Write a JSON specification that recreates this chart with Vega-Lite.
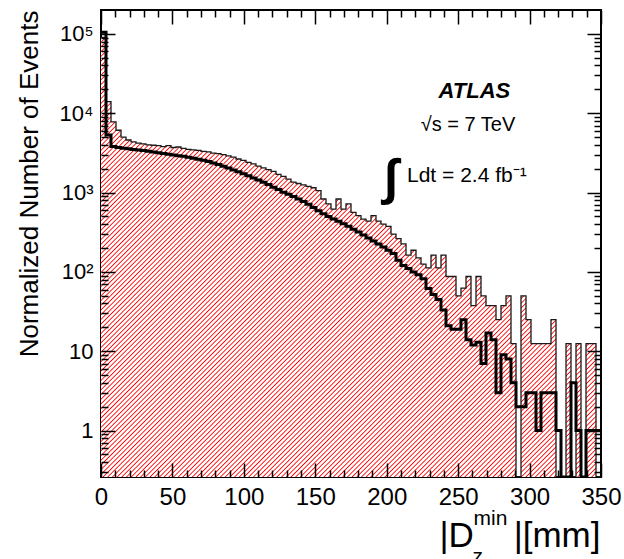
{
"$schema":"https://vega.github.io/schema/vega-lite/v6.json",
"width":500,"height":467,
"autosize":"none",
"padding":{"left":101,"top":10,"right":23,"bottom":82},
"background":"white",
"config":{"view":{"stroke":"black","strokeWidth":2},"font":"Liberation Sans",
"axis":{"grid":false,"domain":false,"labelColor":"black","tickColor":"black","titleColor":"black","labelFont":"Liberation Sans","titleFont":"Liberation Sans","titleFontWeight":"normal","tickWidth":1.5},
"text":{"font":"Liberation Sans","color":"black"}},
"data":{"values":[
{"x":0,"data":105000,"mc":90000},{"x":3.5,"data":5300,"mc":14000},{"x":7,"data":3800,"mc":7800},{"x":10.5,"data":3700,"mc":6100},{"x":14,"data":3620,"mc":5000},
{"x":17.5,"data":3560,"mc":4600},{"x":21,"data":3500,"mc":4350},{"x":24.5,"data":3440,"mc":4200},{"x":28,"data":3380,"mc":4100},{"x":31.5,"data":3320,"mc":4000},
{"x":35,"data":3250,"mc":3950},{"x":38.5,"data":3170,"mc":3900},{"x":42,"data":3100,"mc":3800},{"x":45.5,"data":3040,"mc":3900},{"x":49,"data":2980,"mc":3700},
{"x":52.5,"data":2920,"mc":3750},{"x":56,"data":2860,"mc":3600},{"x":59.5,"data":2790,"mc":3500},{"x":63,"data":2710,"mc":3450},{"x":66.5,"data":2630,"mc":3400},
{"x":70,"data":2550,"mc":3300},{"x":73.5,"data":2460,"mc":3250},{"x":77,"data":2360,"mc":3150},{"x":80.5,"data":2260,"mc":3100},{"x":84,"data":2150,"mc":3000},
{"x":87.5,"data":2040,"mc":2900},{"x":91,"data":1930,"mc":2800},{"x":94.5,"data":1830,"mc":2650},{"x":98,"data":1730,"mc":2550},{"x":101.5,"data":1630,"mc":2400},
{"x":105,"data":1530,"mc":2300},{"x":108.5,"data":1440,"mc":2150},{"x":112,"data":1350,"mc":2050},{"x":115.5,"data":1260,"mc":1950},{"x":119,"data":1170,"mc":1850},
{"x":122.5,"data":1090,"mc":1700},{"x":126,"data":1010,"mc":1600},{"x":129.5,"data":950,"mc":1480},{"x":133,"data":890,"mc":1350},{"x":136.5,"data":830,"mc":1300},
{"x":140,"data":770,"mc":1250},{"x":143.5,"data":710,"mc":1200},{"x":147,"data":650,"mc":1150},{"x":150.5,"data":590,"mc":1060},{"x":154,"data":540,"mc":830},
{"x":157.5,"data":500,"mc":720},{"x":161,"data":465,"mc":620},{"x":164.5,"data":435,"mc":830},{"x":168,"data":405,"mc":620},{"x":171.5,"data":375,"mc":720},
{"x":175,"data":345,"mc":562.5},{"x":178.5,"data":318,"mc":512.5},{"x":182,"data":292,"mc":462.5},{"x":185.5,"data":268,"mc":437.5},{"x":189,"data":246,"mc":512.5},
{"x":192.5,"data":225,"mc":437.5},{"x":196,"data":206,"mc":400},{"x":199.5,"data":188,"mc":375},{"x":203,"data":170,"mc":300},{"x":206.5,"data":140,"mc":262.5},
{"x":210,"data":120,"mc":225},{"x":213.5,"data":110,"mc":162.5},{"x":217,"data":100,"mc":187.5},{"x":220.5,"data":92,"mc":150},{"x":224,"data":82,"mc":125},
{"x":227.5,"data":62,"mc":112.5},{"x":231,"data":52,"mc":162.5},{"x":234.5,"data":45,"mc":112.5},{"x":238,"data":33,"mc":162.5},{"x":241.5,"data":21,"mc":87.5},
{"x":245,"data":19,"mc":87.5},{"x":248.5,"data":19,"mc":50},{"x":252,"data":25,"mc":62.5},{"x":255.5,"data":14,"mc":87.5},{"x":259,"data":12,"mc":37.5},
{"x":262.5,"data":13,"mc":87.5},{"x":266,"data":7,"mc":50},{"x":269.5,"data":17,"mc":37.5},{"x":273,"data":14,"mc":37.5},{"x":276.5,"data":3,"mc":25},
{"x":280,"data":9,"mc":37.5},{"x":283.5,"data":8,"mc":50},{"x":287,"data":4,"mc":12.5},{"x":290.5,"data":2,"mc":0},{"x":294,"data":2,"mc":50},
{"x":297.5,"data":3,"mc":25},{"x":301,"data":3,"mc":12.5},{"x":304.5,"data":1,"mc":12.5},{"x":308,"data":3,"mc":12.5},{"x":311.5,"data":3,"mc":12.5},
{"x":315,"data":3,"mc":25},{"x":318.5,"data":1,"mc":0},{"x":322,"data":0,"mc":0},{"x":325.5,"data":0,"mc":12.5},{"x":329,"data":4,"mc":0},
{"x":332.5,"data":1,"mc":12.5},{"x":336,"data":0,"mc":0},{"x":339.5,"data":1,"mc":12.5},{"x":343,"data":1,"mc":12.5},{"x":346.5,"data":1,"mc":0},
{"x":350,"data":1,"mc":0}
]},
"resolve":{"axis":{"x":"independent","y":"independent"}},
"layer":[
{"mark":{"type":"area","interpolate":"step-after","clip":true,"invalid":"show",
 "fill":{"gradient":"linear","x1":0,"y1":0,"x2":1.06,"y2":0.932,"stops":[
{"offset":0,"color":"#f00"},{"offset":0.0013,"color":"#fff"},{"offset":0.0037,"color":"#fff"},{"offset":0.005,"color":"#f00"},{"offset":0.0063,"color":"#fff"},{"offset":0.0087,"color":"#fff"},
{"offset":0.01,"color":"#f00"},{"offset":0.0113,"color":"#fff"},{"offset":0.0137,"color":"#fff"},{"offset":0.015,"color":"#f00"},{"offset":0.0163,"color":"#fff"},{"offset":0.0187,"color":"#fff"},
{"offset":0.02,"color":"#f00"},{"offset":0.0213,"color":"#fff"},{"offset":0.0237,"color":"#fff"},{"offset":0.025,"color":"#f00"},{"offset":0.0263,"color":"#fff"},{"offset":0.0287,"color":"#fff"},
{"offset":0.03,"color":"#f00"},{"offset":0.0313,"color":"#fff"},{"offset":0.0337,"color":"#fff"},{"offset":0.035,"color":"#f00"},{"offset":0.0363,"color":"#fff"},{"offset":0.0387,"color":"#fff"},
{"offset":0.04,"color":"#f00"},{"offset":0.0413,"color":"#fff"},{"offset":0.0437,"color":"#fff"},{"offset":0.045,"color":"#f00"},{"offset":0.0463,"color":"#fff"},{"offset":0.0487,"color":"#fff"},
{"offset":0.05,"color":"#f00"},{"offset":0.0513,"color":"#fff"},{"offset":0.0537,"color":"#fff"},{"offset":0.055,"color":"#f00"},{"offset":0.0563,"color":"#fff"},{"offset":0.0587,"color":"#fff"},
{"offset":0.06,"color":"#f00"},{"offset":0.0613,"color":"#fff"},{"offset":0.0637,"color":"#fff"},{"offset":0.065,"color":"#f00"},{"offset":0.0663,"color":"#fff"},{"offset":0.0687,"color":"#fff"},
{"offset":0.07,"color":"#f00"},{"offset":0.0713,"color":"#fff"},{"offset":0.0737,"color":"#fff"},{"offset":0.075,"color":"#f00"},{"offset":0.0763,"color":"#fff"},{"offset":0.0787,"color":"#fff"},
{"offset":0.08,"color":"#f00"},{"offset":0.0813,"color":"#fff"},{"offset":0.0837,"color":"#fff"},{"offset":0.085,"color":"#f00"},{"offset":0.0863,"color":"#fff"},{"offset":0.0887,"color":"#fff"},
{"offset":0.09,"color":"#f00"},{"offset":0.0913,"color":"#fff"},{"offset":0.0937,"color":"#fff"},{"offset":0.095,"color":"#f00"},{"offset":0.0963,"color":"#fff"},{"offset":0.0987,"color":"#fff"},
{"offset":0.1,"color":"#f00"},{"offset":0.1013,"color":"#fff"},{"offset":0.1037,"color":"#fff"},{"offset":0.105,"color":"#f00"},{"offset":0.1063,"color":"#fff"},{"offset":0.1087,"color":"#fff"},
{"offset":0.11,"color":"#f00"},{"offset":0.1113,"color":"#fff"},{"offset":0.1137,"color":"#fff"},{"offset":0.115,"color":"#f00"},{"offset":0.1163,"color":"#fff"},{"offset":0.1187,"color":"#fff"},
{"offset":0.12,"color":"#f00"},{"offset":0.1213,"color":"#fff"},{"offset":0.1237,"color":"#fff"},{"offset":0.125,"color":"#f00"},{"offset":0.1263,"color":"#fff"},{"offset":0.1287,"color":"#fff"},
{"offset":0.13,"color":"#f00"},{"offset":0.1313,"color":"#fff"},{"offset":0.1337,"color":"#fff"},{"offset":0.135,"color":"#f00"},{"offset":0.1363,"color":"#fff"},{"offset":0.1387,"color":"#fff"},
{"offset":0.14,"color":"#f00"},{"offset":0.1413,"color":"#fff"},{"offset":0.1437,"color":"#fff"},{"offset":0.145,"color":"#f00"},{"offset":0.1463,"color":"#fff"},{"offset":0.1487,"color":"#fff"},
{"offset":0.15,"color":"#f00"},{"offset":0.1513,"color":"#fff"},{"offset":0.1537,"color":"#fff"},{"offset":0.155,"color":"#f00"},{"offset":0.1563,"color":"#fff"},{"offset":0.1587,"color":"#fff"},
{"offset":0.16,"color":"#f00"},{"offset":0.1613,"color":"#fff"},{"offset":0.1637,"color":"#fff"},{"offset":0.165,"color":"#f00"},{"offset":0.1663,"color":"#fff"},{"offset":0.1687,"color":"#fff"},
{"offset":0.17,"color":"#f00"},{"offset":0.1713,"color":"#fff"},{"offset":0.1737,"color":"#fff"},{"offset":0.175,"color":"#f00"},{"offset":0.1763,"color":"#fff"},{"offset":0.1787,"color":"#fff"},
{"offset":0.18,"color":"#f00"},{"offset":0.1813,"color":"#fff"},{"offset":0.1837,"color":"#fff"},{"offset":0.185,"color":"#f00"},{"offset":0.1863,"color":"#fff"},{"offset":0.1887,"color":"#fff"},
{"offset":0.19,"color":"#f00"},{"offset":0.1913,"color":"#fff"},{"offset":0.1937,"color":"#fff"},{"offset":0.195,"color":"#f00"},{"offset":0.1963,"color":"#fff"},{"offset":0.1987,"color":"#fff"},
{"offset":0.2,"color":"#f00"},{"offset":0.2013,"color":"#fff"},{"offset":0.2037,"color":"#fff"},{"offset":0.205,"color":"#f00"},{"offset":0.2063,"color":"#fff"},{"offset":0.2087,"color":"#fff"},
{"offset":0.21,"color":"#f00"},{"offset":0.2113,"color":"#fff"},{"offset":0.2137,"color":"#fff"},{"offset":0.215,"color":"#f00"},{"offset":0.2163,"color":"#fff"},{"offset":0.2187,"color":"#fff"},
{"offset":0.22,"color":"#f00"},{"offset":0.2213,"color":"#fff"},{"offset":0.2237,"color":"#fff"},{"offset":0.225,"color":"#f00"},{"offset":0.2263,"color":"#fff"},{"offset":0.2287,"color":"#fff"},
{"offset":0.23,"color":"#f00"},{"offset":0.2313,"color":"#fff"},{"offset":0.2337,"color":"#fff"},{"offset":0.235,"color":"#f00"},{"offset":0.2363,"color":"#fff"},{"offset":0.2387,"color":"#fff"},
{"offset":0.24,"color":"#f00"},{"offset":0.2413,"color":"#fff"},{"offset":0.2437,"color":"#fff"},{"offset":0.245,"color":"#f00"},{"offset":0.2463,"color":"#fff"},{"offset":0.2487,"color":"#fff"},
{"offset":0.25,"color":"#f00"},{"offset":0.2513,"color":"#fff"},{"offset":0.2537,"color":"#fff"},{"offset":0.255,"color":"#f00"},{"offset":0.2563,"color":"#fff"},{"offset":0.2587,"color":"#fff"},
{"offset":0.26,"color":"#f00"},{"offset":0.2613,"color":"#fff"},{"offset":0.2637,"color":"#fff"},{"offset":0.265,"color":"#f00"},{"offset":0.2663,"color":"#fff"},{"offset":0.2687,"color":"#fff"},
{"offset":0.27,"color":"#f00"},{"offset":0.2713,"color":"#fff"},{"offset":0.2737,"color":"#fff"},{"offset":0.275,"color":"#f00"},{"offset":0.2763,"color":"#fff"},{"offset":0.2787,"color":"#fff"},
{"offset":0.28,"color":"#f00"},{"offset":0.2813,"color":"#fff"},{"offset":0.2837,"color":"#fff"},{"offset":0.285,"color":"#f00"},{"offset":0.2863,"color":"#fff"},{"offset":0.2887,"color":"#fff"},
{"offset":0.29,"color":"#f00"},{"offset":0.2913,"color":"#fff"},{"offset":0.2937,"color":"#fff"},{"offset":0.295,"color":"#f00"},{"offset":0.2963,"color":"#fff"},{"offset":0.2987,"color":"#fff"},
{"offset":0.3,"color":"#f00"},{"offset":0.3013,"color":"#fff"},{"offset":0.3037,"color":"#fff"},{"offset":0.305,"color":"#f00"},{"offset":0.3063,"color":"#fff"},{"offset":0.3087,"color":"#fff"},
{"offset":0.31,"color":"#f00"},{"offset":0.3113,"color":"#fff"},{"offset":0.3137,"color":"#fff"},{"offset":0.315,"color":"#f00"},{"offset":0.3163,"color":"#fff"},{"offset":0.3187,"color":"#fff"},
{"offset":0.32,"color":"#f00"},{"offset":0.3213,"color":"#fff"},{"offset":0.3237,"color":"#fff"},{"offset":0.325,"color":"#f00"},{"offset":0.3263,"color":"#fff"},{"offset":0.3287,"color":"#fff"},
{"offset":0.33,"color":"#f00"},{"offset":0.3313,"color":"#fff"},{"offset":0.3337,"color":"#fff"},{"offset":0.335,"color":"#f00"},{"offset":0.3363,"color":"#fff"},{"offset":0.3387,"color":"#fff"},
{"offset":0.34,"color":"#f00"},{"offset":0.3413,"color":"#fff"},{"offset":0.3437,"color":"#fff"},{"offset":0.345,"color":"#f00"},{"offset":0.3463,"color":"#fff"},{"offset":0.3487,"color":"#fff"},
{"offset":0.35,"color":"#f00"},{"offset":0.3513,"color":"#fff"},{"offset":0.3537,"color":"#fff"},{"offset":0.355,"color":"#f00"},{"offset":0.3563,"color":"#fff"},{"offset":0.3587,"color":"#fff"},
{"offset":0.36,"color":"#f00"},{"offset":0.3613,"color":"#fff"},{"offset":0.3637,"color":"#fff"},{"offset":0.365,"color":"#f00"},{"offset":0.3663,"color":"#fff"},{"offset":0.3687,"color":"#fff"},
{"offset":0.37,"color":"#f00"},{"offset":0.3713,"color":"#fff"},{"offset":0.3737,"color":"#fff"},{"offset":0.375,"color":"#f00"},{"offset":0.3763,"color":"#fff"},{"offset":0.3787,"color":"#fff"},
{"offset":0.38,"color":"#f00"},{"offset":0.3813,"color":"#fff"},{"offset":0.3837,"color":"#fff"},{"offset":0.385,"color":"#f00"},{"offset":0.3863,"color":"#fff"},{"offset":0.3887,"color":"#fff"},
{"offset":0.39,"color":"#f00"},{"offset":0.3913,"color":"#fff"},{"offset":0.3937,"color":"#fff"},{"offset":0.395,"color":"#f00"},{"offset":0.3963,"color":"#fff"},{"offset":0.3987,"color":"#fff"},
{"offset":0.4,"color":"#f00"},{"offset":0.4013,"color":"#fff"},{"offset":0.4037,"color":"#fff"},{"offset":0.405,"color":"#f00"},{"offset":0.4063,"color":"#fff"},{"offset":0.4087,"color":"#fff"},
{"offset":0.41,"color":"#f00"},{"offset":0.4113,"color":"#fff"},{"offset":0.4137,"color":"#fff"},{"offset":0.415,"color":"#f00"},{"offset":0.4163,"color":"#fff"},{"offset":0.4187,"color":"#fff"},
{"offset":0.42,"color":"#f00"},{"offset":0.4213,"color":"#fff"},{"offset":0.4237,"color":"#fff"},{"offset":0.425,"color":"#f00"},{"offset":0.4263,"color":"#fff"},{"offset":0.4287,"color":"#fff"},
{"offset":0.43,"color":"#f00"},{"offset":0.4313,"color":"#fff"},{"offset":0.4337,"color":"#fff"},{"offset":0.435,"color":"#f00"},{"offset":0.4363,"color":"#fff"},{"offset":0.4387,"color":"#fff"},
{"offset":0.44,"color":"#f00"},{"offset":0.4413,"color":"#fff"},{"offset":0.4437,"color":"#fff"},{"offset":0.445,"color":"#f00"},{"offset":0.4463,"color":"#fff"},{"offset":0.4487,"color":"#fff"},
{"offset":0.45,"color":"#f00"},{"offset":0.4513,"color":"#fff"},{"offset":0.4537,"color":"#fff"},{"offset":0.455,"color":"#f00"},{"offset":0.4563,"color":"#fff"},{"offset":0.4587,"color":"#fff"},
{"offset":0.46,"color":"#f00"},{"offset":0.4613,"color":"#fff"},{"offset":0.4637,"color":"#fff"},{"offset":0.465,"color":"#f00"},{"offset":0.4663,"color":"#fff"},{"offset":0.4687,"color":"#fff"},
{"offset":0.47,"color":"#f00"},{"offset":0.4713,"color":"#fff"},{"offset":0.4737,"color":"#fff"},{"offset":0.475,"color":"#f00"},{"offset":0.4763,"color":"#fff"},{"offset":0.4787,"color":"#fff"},
{"offset":0.48,"color":"#f00"},{"offset":0.4813,"color":"#fff"},{"offset":0.4837,"color":"#fff"},{"offset":0.485,"color":"#f00"},{"offset":0.4863,"color":"#fff"},{"offset":0.4887,"color":"#fff"},
{"offset":0.49,"color":"#f00"},{"offset":0.4913,"color":"#fff"},{"offset":0.4937,"color":"#fff"},{"offset":0.495,"color":"#f00"},{"offset":0.4963,"color":"#fff"},{"offset":0.4987,"color":"#fff"},
{"offset":0.5,"color":"#f00"},{"offset":0.5013,"color":"#fff"},{"offset":0.5037,"color":"#fff"},{"offset":0.505,"color":"#f00"},{"offset":0.5063,"color":"#fff"},{"offset":0.5087,"color":"#fff"},
{"offset":0.51,"color":"#f00"},{"offset":0.5113,"color":"#fff"},{"offset":0.5137,"color":"#fff"},{"offset":0.515,"color":"#f00"},{"offset":0.5163,"color":"#fff"},{"offset":0.5187,"color":"#fff"},
{"offset":0.52,"color":"#f00"},{"offset":0.5213,"color":"#fff"},{"offset":0.5237,"color":"#fff"},{"offset":0.525,"color":"#f00"},{"offset":0.5263,"color":"#fff"},{"offset":0.5287,"color":"#fff"},
{"offset":0.53,"color":"#f00"},{"offset":0.5313,"color":"#fff"},{"offset":0.5337,"color":"#fff"},{"offset":0.535,"color":"#f00"},{"offset":0.5363,"color":"#fff"},{"offset":0.5387,"color":"#fff"},
{"offset":0.54,"color":"#f00"},{"offset":0.5413,"color":"#fff"},{"offset":0.5437,"color":"#fff"},{"offset":0.545,"color":"#f00"},{"offset":0.5463,"color":"#fff"},{"offset":0.5487,"color":"#fff"},
{"offset":0.55,"color":"#f00"},{"offset":0.5513,"color":"#fff"},{"offset":0.5537,"color":"#fff"},{"offset":0.555,"color":"#f00"},{"offset":0.5563,"color":"#fff"},{"offset":0.5587,"color":"#fff"},
{"offset":0.56,"color":"#f00"},{"offset":0.5613,"color":"#fff"},{"offset":0.5637,"color":"#fff"},{"offset":0.565,"color":"#f00"},{"offset":0.5663,"color":"#fff"},{"offset":0.5687,"color":"#fff"},
{"offset":0.57,"color":"#f00"},{"offset":0.5713,"color":"#fff"},{"offset":0.5737,"color":"#fff"},{"offset":0.575,"color":"#f00"},{"offset":0.5763,"color":"#fff"},{"offset":0.5787,"color":"#fff"},
{"offset":0.58,"color":"#f00"},{"offset":0.5813,"color":"#fff"},{"offset":0.5837,"color":"#fff"},{"offset":0.585,"color":"#f00"},{"offset":0.5863,"color":"#fff"},{"offset":0.5887,"color":"#fff"},
{"offset":0.59,"color":"#f00"},{"offset":0.5913,"color":"#fff"},{"offset":0.5937,"color":"#fff"},{"offset":0.595,"color":"#f00"},{"offset":0.5963,"color":"#fff"},{"offset":0.5987,"color":"#fff"},
{"offset":0.6,"color":"#f00"},{"offset":0.6013,"color":"#fff"},{"offset":0.6037,"color":"#fff"},{"offset":0.605,"color":"#f00"},{"offset":0.6063,"color":"#fff"},{"offset":0.6087,"color":"#fff"},
{"offset":0.61,"color":"#f00"},{"offset":0.6113,"color":"#fff"},{"offset":0.6137,"color":"#fff"},{"offset":0.615,"color":"#f00"},{"offset":0.6163,"color":"#fff"},{"offset":0.6187,"color":"#fff"},
{"offset":0.62,"color":"#f00"},{"offset":0.6213,"color":"#fff"},{"offset":0.6237,"color":"#fff"},{"offset":0.625,"color":"#f00"},{"offset":0.6263,"color":"#fff"},{"offset":0.6287,"color":"#fff"},
{"offset":0.63,"color":"#f00"},{"offset":0.6313,"color":"#fff"},{"offset":0.6337,"color":"#fff"},{"offset":0.635,"color":"#f00"},{"offset":0.6363,"color":"#fff"},{"offset":0.6387,"color":"#fff"},
{"offset":0.64,"color":"#f00"},{"offset":0.6413,"color":"#fff"},{"offset":0.6437,"color":"#fff"},{"offset":0.645,"color":"#f00"},{"offset":0.6463,"color":"#fff"},{"offset":0.6487,"color":"#fff"},
{"offset":0.65,"color":"#f00"},{"offset":0.6513,"color":"#fff"},{"offset":0.6537,"color":"#fff"},{"offset":0.655,"color":"#f00"},{"offset":0.6563,"color":"#fff"},{"offset":0.6587,"color":"#fff"},
{"offset":0.66,"color":"#f00"},{"offset":0.6613,"color":"#fff"},{"offset":0.6637,"color":"#fff"},{"offset":0.665,"color":"#f00"},{"offset":0.6663,"color":"#fff"},{"offset":0.6687,"color":"#fff"},
{"offset":0.67,"color":"#f00"},{"offset":0.6713,"color":"#fff"},{"offset":0.6737,"color":"#fff"},{"offset":0.675,"color":"#f00"},{"offset":0.6763,"color":"#fff"},{"offset":0.6787,"color":"#fff"},
{"offset":0.68,"color":"#f00"},{"offset":0.6813,"color":"#fff"},{"offset":0.6837,"color":"#fff"},{"offset":0.685,"color":"#f00"},{"offset":0.6863,"color":"#fff"},{"offset":0.6887,"color":"#fff"},
{"offset":0.69,"color":"#f00"},{"offset":0.6913,"color":"#fff"},{"offset":0.6937,"color":"#fff"},{"offset":0.695,"color":"#f00"},{"offset":0.6963,"color":"#fff"},{"offset":0.6987,"color":"#fff"},
{"offset":0.7,"color":"#f00"},{"offset":0.7013,"color":"#fff"},{"offset":0.7037,"color":"#fff"},{"offset":0.705,"color":"#f00"},{"offset":0.7063,"color":"#fff"},{"offset":0.7087,"color":"#fff"},
{"offset":0.71,"color":"#f00"},{"offset":0.7113,"color":"#fff"},{"offset":0.7137,"color":"#fff"},{"offset":0.715,"color":"#f00"},{"offset":0.7163,"color":"#fff"},{"offset":0.7187,"color":"#fff"},
{"offset":0.72,"color":"#f00"},{"offset":0.7213,"color":"#fff"},{"offset":0.7237,"color":"#fff"},{"offset":0.725,"color":"#f00"},{"offset":0.7263,"color":"#fff"},{"offset":0.7287,"color":"#fff"},
{"offset":0.73,"color":"#f00"},{"offset":0.7313,"color":"#fff"},{"offset":0.7337,"color":"#fff"},{"offset":0.735,"color":"#f00"},{"offset":0.7363,"color":"#fff"},{"offset":0.7387,"color":"#fff"},
{"offset":0.74,"color":"#f00"},{"offset":0.7413,"color":"#fff"},{"offset":0.7437,"color":"#fff"},{"offset":0.745,"color":"#f00"},{"offset":0.7463,"color":"#fff"},{"offset":0.7487,"color":"#fff"},
{"offset":0.75,"color":"#f00"},{"offset":0.7513,"color":"#fff"},{"offset":0.7537,"color":"#fff"},{"offset":0.755,"color":"#f00"},{"offset":0.7563,"color":"#fff"},{"offset":0.7587,"color":"#fff"},
{"offset":0.76,"color":"#f00"},{"offset":0.7613,"color":"#fff"},{"offset":0.7637,"color":"#fff"},{"offset":0.765,"color":"#f00"},{"offset":0.7663,"color":"#fff"},{"offset":0.7687,"color":"#fff"},
{"offset":0.77,"color":"#f00"},{"offset":0.7713,"color":"#fff"},{"offset":0.7737,"color":"#fff"},{"offset":0.775,"color":"#f00"},{"offset":0.7763,"color":"#fff"},{"offset":0.7787,"color":"#fff"},
{"offset":0.78,"color":"#f00"},{"offset":0.7813,"color":"#fff"},{"offset":0.7837,"color":"#fff"},{"offset":0.785,"color":"#f00"},{"offset":0.7863,"color":"#fff"},{"offset":0.7887,"color":"#fff"},
{"offset":0.79,"color":"#f00"},{"offset":0.7913,"color":"#fff"},{"offset":0.7937,"color":"#fff"},{"offset":0.795,"color":"#f00"},{"offset":0.7963,"color":"#fff"},{"offset":0.7987,"color":"#fff"},
{"offset":0.8,"color":"#f00"},{"offset":0.8013,"color":"#fff"},{"offset":0.8037,"color":"#fff"},{"offset":0.805,"color":"#f00"},{"offset":0.8063,"color":"#fff"},{"offset":0.8087,"color":"#fff"},
{"offset":0.81,"color":"#f00"},{"offset":0.8113,"color":"#fff"},{"offset":0.8137,"color":"#fff"},{"offset":0.815,"color":"#f00"},{"offset":0.8163,"color":"#fff"},{"offset":0.8187,"color":"#fff"},
{"offset":0.82,"color":"#f00"},{"offset":0.8213,"color":"#fff"},{"offset":0.8237,"color":"#fff"},{"offset":0.825,"color":"#f00"},{"offset":0.8263,"color":"#fff"},{"offset":0.8287,"color":"#fff"},
{"offset":0.83,"color":"#f00"},{"offset":0.8313,"color":"#fff"},{"offset":0.8337,"color":"#fff"},{"offset":0.835,"color":"#f00"},{"offset":0.8363,"color":"#fff"},{"offset":0.8387,"color":"#fff"},
{"offset":0.84,"color":"#f00"},{"offset":0.8413,"color":"#fff"},{"offset":0.8437,"color":"#fff"},{"offset":0.845,"color":"#f00"},{"offset":0.8463,"color":"#fff"},{"offset":0.8487,"color":"#fff"},
{"offset":0.85,"color":"#f00"},{"offset":0.8513,"color":"#fff"},{"offset":0.8537,"color":"#fff"},{"offset":0.855,"color":"#f00"},{"offset":0.8563,"color":"#fff"},{"offset":0.8587,"color":"#fff"},
{"offset":0.86,"color":"#f00"},{"offset":0.8613,"color":"#fff"},{"offset":0.8637,"color":"#fff"},{"offset":0.865,"color":"#f00"},{"offset":0.8663,"color":"#fff"},{"offset":0.8687,"color":"#fff"},
{"offset":0.87,"color":"#f00"},{"offset":0.8713,"color":"#fff"},{"offset":0.8737,"color":"#fff"},{"offset":0.875,"color":"#f00"},{"offset":0.8763,"color":"#fff"},{"offset":0.8787,"color":"#fff"},
{"offset":0.88,"color":"#f00"},{"offset":0.8813,"color":"#fff"},{"offset":0.8837,"color":"#fff"},{"offset":0.885,"color":"#f00"},{"offset":0.8863,"color":"#fff"},{"offset":0.8887,"color":"#fff"},
{"offset":0.89,"color":"#f00"},{"offset":0.8913,"color":"#fff"},{"offset":0.8937,"color":"#fff"},{"offset":0.895,"color":"#f00"},{"offset":0.8963,"color":"#fff"},{"offset":0.8987,"color":"#fff"},
{"offset":0.9,"color":"#f00"},{"offset":0.9013,"color":"#fff"},{"offset":0.9037,"color":"#fff"},{"offset":0.905,"color":"#f00"},{"offset":0.9063,"color":"#fff"},{"offset":0.9087,"color":"#fff"},
{"offset":0.91,"color":"#f00"},{"offset":0.9113,"color":"#fff"},{"offset":0.9137,"color":"#fff"},{"offset":0.915,"color":"#f00"},{"offset":0.9163,"color":"#fff"},{"offset":0.9187,"color":"#fff"},
{"offset":0.92,"color":"#f00"},{"offset":0.9213,"color":"#fff"},{"offset":0.9237,"color":"#fff"},{"offset":0.925,"color":"#f00"},{"offset":0.9263,"color":"#fff"},{"offset":0.9287,"color":"#fff"},
{"offset":0.93,"color":"#f00"},{"offset":0.9313,"color":"#fff"},{"offset":0.9337,"color":"#fff"},{"offset":0.935,"color":"#f00"},{"offset":0.9363,"color":"#fff"},{"offset":0.9387,"color":"#fff"},
{"offset":0.94,"color":"#f00"},{"offset":0.9413,"color":"#fff"},{"offset":0.9437,"color":"#fff"},{"offset":0.945,"color":"#f00"},{"offset":0.9463,"color":"#fff"},{"offset":0.9487,"color":"#fff"},
{"offset":0.95,"color":"#f00"},{"offset":0.9513,"color":"#fff"},{"offset":0.9537,"color":"#fff"},{"offset":0.955,"color":"#f00"},{"offset":0.9563,"color":"#fff"},{"offset":0.9587,"color":"#fff"},
{"offset":0.96,"color":"#f00"},{"offset":0.9613,"color":"#fff"},{"offset":0.9637,"color":"#fff"},{"offset":0.965,"color":"#f00"},{"offset":0.9663,"color":"#fff"},{"offset":0.9687,"color":"#fff"},
{"offset":0.97,"color":"#f00"},{"offset":0.9713,"color":"#fff"},{"offset":0.9737,"color":"#fff"},{"offset":0.975,"color":"#f00"},{"offset":0.9763,"color":"#fff"},{"offset":0.9787,"color":"#fff"},
{"offset":0.98,"color":"#f00"},{"offset":0.9813,"color":"#fff"},{"offset":0.9837,"color":"#fff"},{"offset":0.985,"color":"#f00"},{"offset":0.9863,"color":"#fff"},{"offset":0.9887,"color":"#fff"},
{"offset":0.99,"color":"#f00"},{"offset":0.9913,"color":"#fff"},{"offset":0.9937,"color":"#fff"},{"offset":0.995,"color":"#f00"},{"offset":0.9963,"color":"#fff"},{"offset":0.9987,"color":"#fff"},
{"offset":1,"color":"#f00"}]}},
 "encoding":{
  "x":{"field":"x","type":"quantitative","scale":{"domain":[0,350],"nice":false,"zero":false},
   "axis":{"orient":"bottom","values":[0,50,100,150,200,250,300,350],"ticks":false,"labelFontSize":24,"labelPadding":8,"labelFlush":false,"labelOverlap":false,"format":"d",
    "title":"|D","titleFontSize":35,"titleX":338,"titleY":69,"titleAlign":"left","titleBaseline":"alphabetic"}},
  "y":{"field":"mc","type":"quantitative","stack":null,"scale":{"type":"log","domain":[0.26,200000],"nice":false,"clamp":true},
   "axis":{"orient":"left","values":[1,10,100,1000,10000,100000],"ticks":false,"labelExpr":"datum.value == 100000 ? '10⁵' : datum.value == 10000 ? '10⁴' : datum.value == 1000 ? '10³' : datum.value == 100 ? '10²' : datum.value == 10 ? '10' : '1'","labelFontSize":22,"labelPadding":8,
    "title":"Normalized Number of Events","titleFontSize":26,"titleX":-72,"titleY":0,"titleAngle":270,"titleAlign":"right","titleBaseline":"middle"}}}},
{"mark":{"type":"line","interpolate":"step-after","clip":true,"stroke":"#1a1a1a","strokeWidth":1.3,"invalid":"show"},
 "encoding":{
  "x":{"field":"x","type":"quantitative",
   "axis":{"orient":"bottom","offset":-14,"zindex":1,"values":[0,50,100,150,200,250,300,350],"labels":false,"tickSize":14,
    "title":"min","titleFontSize":21,"titleX":372,"titleY":61.7,"titleAlign":"left","titleBaseline":"alphabetic"}},
  "y":{"field":"mc","type":"quantitative",
   "axis":{"orient":"left","offset":-14,"zindex":1,"values":[1,10,100,1000,10000,100000],"labels":false,"tickSize":14,"title":null}}}},
{"mark":{"type":"line","interpolate":"step-after","clip":true,"stroke":"black","strokeWidth":3,"invalid":"show"},
 "encoding":{
  "x":{"field":"x","type":"quantitative",
   "axis":{"orient":"bottom","offset":-7,"zindex":1,"values":[10,20,30,40,60,70,80,90,110,120,130,140,160,170,180,190,210,220,230,240,260,270,280,290,310,320,330,340],"labels":false,"tickSize":7,
    "title":"z","titleFontSize":21,"titleX":371,"titleY":92,"titleAlign":"left","titleBaseline":"alphabetic"}},
  "y":{"field":"data","type":"quantitative",
   "axis":{"orient":"left","offset":-7,"zindex":1,"values":[0.3,0.4,0.5,0.6,0.7,0.8,0.9,2,3,4,5,6,7,8,9,20,30,40,50,60,70,80,90,200,300,400,500,600,700,800,900,2000,3000,4000,5000,6000,7000,8000,9000,20000,30000,40000,50000,60000,70000,80000,90000],"labels":false,"tickSize":7,"title":null}}}},
{"data":{"values":[{"label":"ATLAS"}]},
 "mark":{"type":"text","fontSize":22,"fontWeight":"bold","fontStyle":"italic","align":"center","baseline":"alphabetic"},
 "encoding":{"text":{"field":"label"},
  "x":{"datum":261.4,"type":"quantitative",
   "axis":{"orient":"top","offset":-14,"zindex":1,"values":[0,50,100,150,200,250,300,350],"labels":false,"tickSize":14,
    "title":"|[mm]","titleFontSize":35,"titleX":499,"titleY":522,"titleAlign":"right","titleBaseline":"alphabetic"}},
  "y":{"datum":15560,"type":"quantitative",
   "axis":{"orient":"right","offset":-14,"zindex":1,"values":[1,10,100,1000,10000,100000],"labels":false,"tickSize":14,"title":null}}}},
{"data":{"values":[{"label":"√s = 7 TeV"}]},
 "mark":{"type":"text","fontSize":20,"align":"center","baseline":"alphabetic"},
 "encoding":{"text":{"field":"label"},
  "x":{"datum":256.9,"type":"quantitative",
   "axis":{"orient":"top","offset":-7,"zindex":1,"values":[10,20,30,40,60,70,80,90,110,120,130,140,160,170,180,190,210,220,230,240,260,270,280,290,310,320,330,340],"labels":false,"tickSize":7,"title":null}},
  "y":{"datum":5970,"type":"quantitative",
   "axis":{"orient":"right","offset":-7,"zindex":1,"values":[0.3,0.4,0.5,0.6,0.7,0.8,0.9,2,3,4,5,6,7,8,9,20,30,40,50,60,70,80,90,200,300,400,500,600,700,800,900,2000,3000,4000,5000,6000,7000,8000,9000,20000,30000,40000,50000,60000,70000,80000,90000],"labels":false,"tickSize":7,"title":null}}}},
{"data":{"values":[{"label":"∫"}]},
 "mark":{"type":"text","fontSize":50,"fontWeight":"bold","align":"center","baseline":"alphabetic"},
 "encoding":{"text":{"field":"label"},
  "x":{"datum":203,"type":"quantitative","axis":null},
  "y":{"datum":960,"type":"quantitative","axis":null}}},
{"data":{"values":[{"label":"Ldt = 2.4 fb⁻¹"}]},
 "mark":{"type":"text","fontSize":21,"align":"left","baseline":"alphabetic"},
 "encoding":{"text":{"field":"label"},
  "x":{"datum":214.2,"type":"quantitative","axis":null},
  "y":{"datum":1371,"type":"quantitative","axis":null}}}
]
}
